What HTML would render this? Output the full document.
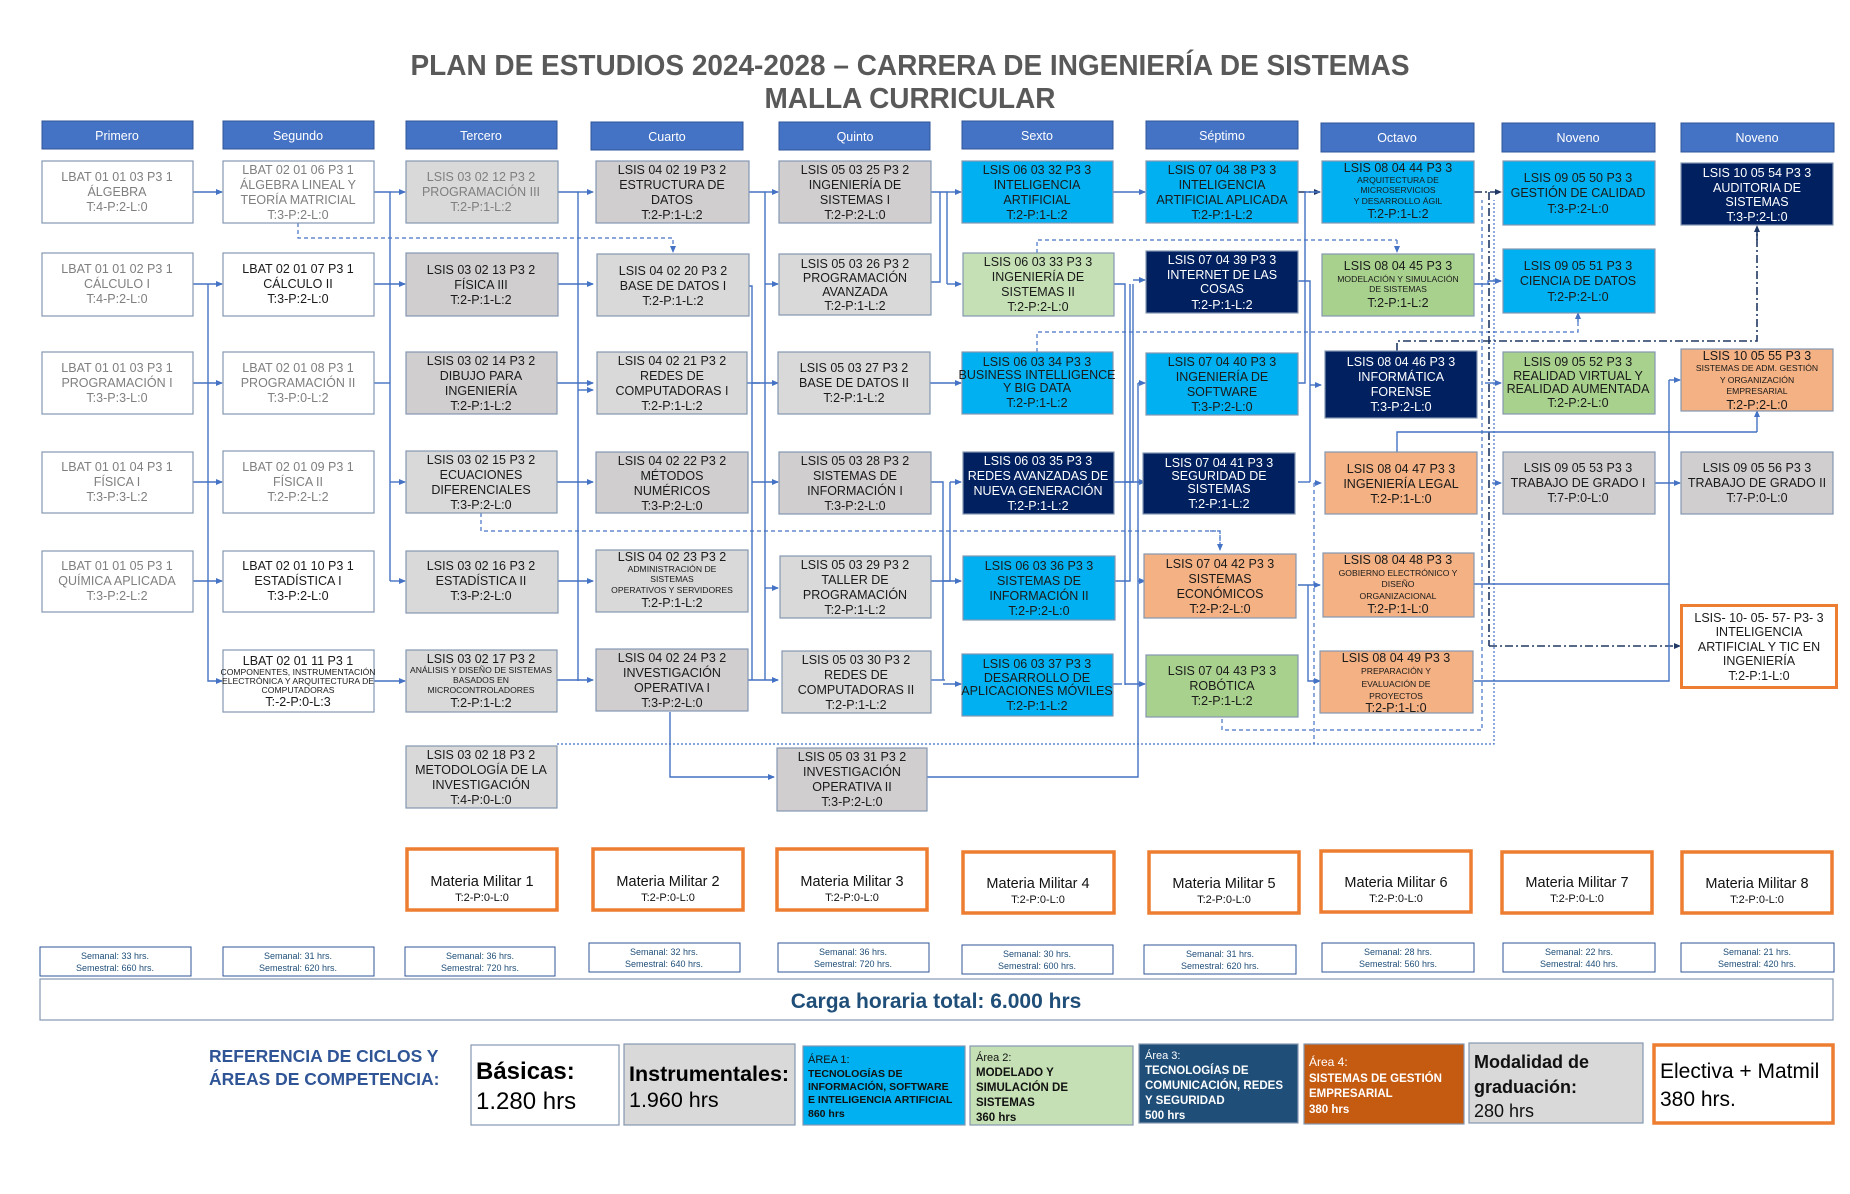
<!DOCTYPE html>
<html><head><meta charset="utf-8"><style>
html,body{margin:0;padding:0;background:#fff;}
svg{display:block;}
text{font-family:"Liberation Sans",sans-serif;}
.t{font-size:12.5px;text-anchor:middle;}
.s{font-size:8.6px;text-anchor:middle;}
.g{fill:#7f7f7f;}
.k{fill:#1a1a1a;}
.w{fill:#fff;}
.h{font-size:12.5px;fill:#fff;text-anchor:middle;}
.ln{fill:none;stroke:#4472c4;stroke-width:1.4;}
.ld{fill:none;stroke:#4472c4;stroke-width:1.2;stroke-dasharray:4 3;}
.ldd{fill:none;stroke:#203864;stroke-width:1.6;stroke-dasharray:8 3 2 3;}
.lp{fill:none;stroke:#4472c4;stroke-width:1.2;stroke-dasharray:2 2;}
.m1{font-size:14.5px;text-anchor:middle;fill:#111;}
.m2{font-size:11px;text-anchor:middle;fill:#111;}
.sm{font-size:9px;text-anchor:middle;fill:#1f4e79;}
</style></head><body>
<svg width="1850" height="1194" viewBox="0 0 1850 1194" xmlns="http://www.w3.org/2000/svg">
<defs>
<marker id="a" markerWidth="7" markerHeight="7" refX="6" refY="3.5" orient="auto" markerUnits="userSpaceOnUse"><path d="M0,0.5 L7,3.5 L0,6.5 z" fill="#4472c4"/></marker>
<marker id="an" markerWidth="7" markerHeight="7" refX="6" refY="3.5" orient="auto" markerUnits="userSpaceOnUse"><path d="M0,0.5 L7,3.5 L0,6.5 z" fill="#203864"/></marker>
</defs>

<text x="910" y="75" font-size="29" font-weight="bold" fill="#595959" text-anchor="middle" textLength="999" lengthAdjust="spacingAndGlyphs">PLAN DE ESTUDIOS 2024-2028 – CARRERA DE INGENIERÍA DE SISTEMAS</text>
<text x="910" y="108" font-size="29" font-weight="bold" fill="#595959" text-anchor="middle" textLength="291" lengthAdjust="spacingAndGlyphs">MALLA CURRICULAR</text>

<g fill="#4472c4" stroke="#2f5597" stroke-width="1">
<rect x="42" y="121" width="151" height="28"/><rect x="223" y="121" width="151" height="28"/><rect x="406" y="121" width="151" height="28"/><rect x="591" y="122" width="152" height="28"/><rect x="779" y="122" width="151" height="28"/><rect x="962" y="121" width="151" height="28"/><rect x="1146" y="121" width="152" height="28"/><rect x="1321" y="123" width="153" height="29"/><rect x="1502" y="123" width="153" height="29"/><rect x="1681" y="123" width="153" height="29"/>
</g>
<text class="h" x="117" y="140">Primero</text><text class="h" x="298" y="140">Segundo</text><text class="h" x="481" y="140">Tercero</text><text class="h" x="667" y="141">Cuarto</text><text class="h" x="855" y="141">Quinto</text><text class="h" x="1037" y="140">Sexto</text><text class="h" x="1222" y="140">Séptimo</text><text class="h" x="1397" y="142">Octavo</text><text class="h" x="1578" y="142">Noveno</text><text class="h" x="1757" y="142">Noveno</text>

<path class="ln" marker-end="url(#a)" d="M193,192 H222"/>
<path class="ln" marker-end="url(#a)" d="M193,284 H222"/>
<path class="ln" marker-end="url(#a)" d="M193,383 H222"/>
<path class="ln" marker-end="url(#a)" d="M193,482 H222"/>
<path class="ln" marker-end="url(#a)" d="M193,581 H222"/>
<path class="ln" marker-end="url(#a)" d="M208,284 V681 H222"/>
<path class="ln" d="M374,192 H390 V581"/>
<path class="ln" d="M374,383 H390"/>
<path class="ln" marker-end="url(#a)" d="M390,192 H405"/>
<path class="ln" marker-end="url(#a)" d="M374,284 H405"/>
<path class="ln" marker-end="url(#a)" d="M390,482 H405"/>
<path class="ln" marker-end="url(#a)" d="M390,581 H405"/>
<path class="ln" marker-end="url(#a)" d="M374,681 H405"/>
<path class="ld" marker-end="url(#a)" d="M298,223 V238 H673 V252"/>
<path class="ln" d="M557,192 H578 V681"/>
<path class="ln" marker-end="url(#a)" d="M578,192 H593"/>
<path class="ln" marker-end="url(#a)" d="M557,284 H593"/>
<path class="ln" marker-end="url(#a)" d="M557,383 H593"/>
<path class="ln" marker-end="url(#a)" d="M578,390 H593"/>
<path class="ln" marker-end="url(#a)" d="M557,482 H593"/>
<path class="ln" marker-end="url(#a)" d="M557,581 H578 M578,581 H593"/>
<path class="ln" marker-end="url(#a)" d="M557,680 H593"/>
<path class="ld" d="M481,513 V531 H1220 V549"/>
<path class="ld" marker-end="url(#a)" d="M1210,531 H1220 V550"/>
<path class="lp" d="M557,744 H1494 V200"/>
<path class="ln" d="M747,192 H765 V680"/>
<path class="ln" d="M747,286 H752 V680"/>
<path class="ln" d="M747,383 H760"/>
<path class="ln" marker-end="url(#a)" d="M765,192 H778"/>
<path class="ln" marker-end="url(#a)" d="M765,284 H778"/>
<path class="ln" marker-end="url(#a)" d="M752,383 H778"/>
<path class="ln" marker-end="url(#a)" d="M752,482 H778"/>
<path class="ln" marker-end="url(#a)" d="M765,588 H778"/>
<path class="ln" marker-end="url(#a)" d="M747,680 H778"/>
<path class="ln" marker-end="url(#a)" d="M670,712 V777 H774"/>
<path class="ln" d="M930,192 H947 V284"/>
<path class="ln" d="M930,282 H940 V192"/>
<path class="ln" marker-end="url(#a)" d="M947,192 H961"/>
<path class="ln" marker-end="url(#a)" d="M947,284 H961"/>
<path class="ln" marker-end="url(#a)" d="M930,383 H961"/>
<path class="ln" d="M930,482 H943 V680"/>
<path class="ln" d="M930,581 H950 V482"/>
<path class="ln" d="M930,680 H945"/>
<path class="ln" marker-end="url(#a)" d="M950,482 H961"/>
<path class="ln" marker-end="url(#a)" d="M943,581 H961"/>
<path class="ln" marker-end="url(#a)" d="M943,684 H961"/>
<path class="ln" d="M926,777 H1138 V383"/>
<path class="ln" marker-end="url(#a)" d="M1113,192 H1145"/>
<path class="ln" d="M1113,284 H1125 V685"/>
<path class="ln" d="M1113,482 H1133 V284"/>
<path class="ln" d="M1113,581 H1130 V284"/>
<path class="ln" d="M1113,684 H1122"/>
<path class="ln" marker-end="url(#a)" d="M1133,280 H1145"/>
<path class="ln" marker-end="url(#a)" d="M1138,383 H1145"/>
<path class="ln" marker-end="url(#a)" d="M1125,482 H1145"/>
<path class="ln" marker-end="url(#a)" d="M1138,581 H1145"/>
<path class="ln" marker-end="url(#a)" d="M1125,684 H1145"/>
<path class="ld" d="M1037,253 V240 H1397"/>
<path class="ld" marker-end="url(#a)" d="M1397,240 V252"/>
<path class="ld" d="M1037,352 V332 H1578 V313" stroke-dasharray="8 4"/>
<path class="ln" marker-end="url(#a)" d="M1578,322 V313"/>
<path class="ldd" marker-end="url(#an)" d="M1298,192 H1320"/>
<path class="ln" d="M1298,383 H1305 V192 H1320"/>
<path class="ln" d="M1298,281 H1310 V482"/>
<path class="ln" d="M1298,482 H1310"/>
<path class="ln" marker-end="url(#a)" d="M1310,385 H1321"/>
<path class="ln" marker-end="url(#a)" d="M1298,585 H1320"/>
<path class="ld" d="M1222,712 V730 H1482 V200" stroke-dasharray="8 4"/>
<path class="ld" marker-end="url(#a)" d="M1314,483 H1321"/>
<path class="ld" d="M1314,483 V744"/>
<path class="ln" marker-end="url(#a)" d="M1308,585 V681 H1320"/>
<path class="ldd" marker-end="url(#an)" d="M1474,192 H1501"/>
<path class="ldd" d="M1489,192 V646"/>
<path class="ldd" marker-end="url(#an)" d="M1489,646 H1680"/>
<path class="ln" marker-end="url(#a)" d="M1474,284 H1488 V281 H1501"/>
<path class="ln" marker-end="url(#a)" d="M1485,383 H1501"/>
<path class="ld" marker-end="url(#a)" d="M1492,483 H1501"/>
<path class="ldd" d="M1397,351 V341 H1757 V233"/>
<path class="ldd" marker-end="url(#an)" d="M1757,240 V226"/>
<path class="ln" d="M1397,452 V432 H1757"/>
<path class="ln" marker-end="url(#a)" d="M1757,432 V411"/>
<path class="ln" marker-end="url(#a)" d="M1655,483 H1680"/>
<path class="ln" d="M1474,584 H1669 V380"/>
<path class="ln" d="M1474,681 H1669 V584"/>
<path class="ln" marker-end="url(#a)" d="M1669,380 H1680"/>

<g stroke="#8497b0" stroke-width="1.2">
<rect x="42" y="161" width="151" height="62" fill="#fff"/>
<rect x="42" y="253" width="151" height="63" fill="#fff"/>
<rect x="42" y="352" width="151" height="62" fill="#fff"/>
<rect x="42" y="452" width="151" height="61" fill="#fff"/>
<rect x="42" y="551" width="151" height="61" fill="#fff"/>
<rect x="223" y="161" width="151" height="62" fill="#fff"/>
<rect x="223" y="253" width="151" height="63" fill="#fff"/>
<rect x="223" y="352" width="151" height="62" fill="#fff"/>
<rect x="223" y="451" width="151" height="62" fill="#fff"/>
<rect x="223" y="551" width="151" height="61" fill="#fff"/>
<rect x="223" y="650" width="151" height="62" fill="#fff"/>
<rect x="406" y="161" width="152" height="62" fill="#d9d9d9"/>
<rect x="406" y="253" width="152" height="63" fill="#d0cece"/>
<rect x="406" y="352" width="151" height="62" fill="#d0cece"/>
<rect x="406" y="451" width="151" height="62" fill="#d9d9d9"/>
<rect x="406" y="551" width="152" height="62" fill="#d9d9d9"/>
<rect x="406" y="650" width="151" height="62" fill="#d9d9d9"/>
<rect x="406" y="746" width="151" height="62" fill="#d9d9d9"/>
<rect x="596" y="161" width="153" height="62" fill="#d0cece"/>
<rect x="597" y="254" width="152" height="62" fill="#d9d9d9"/>
<rect x="597" y="352" width="150" height="62" fill="#d9d9d9"/>
<rect x="596" y="452" width="152" height="61" fill="#d0cece"/>
<rect x="596" y="550" width="152" height="62" fill="#d9d9d9"/>
<rect x="596" y="649" width="152" height="62" fill="#d0cece"/>
<rect x="779" y="161" width="152" height="62" fill="#d0cece"/>
<rect x="779" y="254" width="152" height="61" fill="#d9d9d9"/>
<rect x="778" y="352" width="152" height="62" fill="#d9d9d9"/>
<rect x="779" y="452" width="152" height="62" fill="#d0cece"/>
<rect x="780" y="556" width="151" height="62" fill="#d9d9d9"/>
<rect x="782" y="651" width="149" height="62" fill="#d9d9d9"/>
<rect x="777" y="748" width="150" height="63" fill="#d0cece"/>
<rect x="962" y="161" width="151" height="62" fill="#00b0f0"/>
<rect x="963" y="253" width="151" height="63" fill="#c5e0b4"/>
<rect x="962" y="352" width="151" height="62" fill="#00b0f0"/>
<rect x="963" y="452" width="151" height="62" fill="#002060"/>
<rect x="963" y="556" width="152" height="64" fill="#00b0f0"/>
<rect x="962" y="654" width="151" height="62" fill="#00b0f0"/>
<rect x="1146" y="161" width="152" height="62" fill="#00b0f0"/>
<rect x="1146" y="251" width="152" height="62" fill="#002060"/>
<rect x="1146" y="353" width="152" height="62" fill="#00b0f0"/>
<rect x="1143" y="453" width="152" height="61" fill="#002060"/>
<rect x="1144" y="554" width="152" height="64" fill="#f4b183"/>
<rect x="1146" y="655" width="152" height="62" fill="#a9d18e"/>
<rect x="1322" y="161" width="152" height="62" fill="#00b0f0"/>
<rect x="1322" y="254" width="152" height="62" fill="#a9d18e"/>
<rect x="1325" y="351" width="152" height="67" fill="#002060"/>
<rect x="1325" y="452" width="152" height="62" fill="#f4b183"/>
<rect x="1323" y="553" width="151" height="64" fill="#f4b183"/>
<rect x="1320" y="651" width="153" height="62" fill="#f4b183"/>
<rect x="1503" y="161" width="152" height="64" fill="#00b0f0"/>
<rect x="1503" y="249" width="152" height="64" fill="#00b0f0"/>
<rect x="1503" y="352" width="152" height="62" fill="#a9d18e"/>
<rect x="1503" y="452" width="152" height="62" fill="#d0cece"/>
<rect x="1681" y="163" width="152" height="62" fill="#002060"/>
<rect x="1681" y="349" width="152" height="62" fill="#f4b183"/>
<rect x="1681" y="452" width="152" height="62" fill="#d0cece"/>
</g>
<rect x="1681.5" y="605.5" width="155" height="82" fill="#fff" stroke="#ed7d31" stroke-width="3"/>

<text class="t g"><tspan x="117" y="181">LBAT 01 01 03 P3 1</tspan><tspan x="117" y="196">ÁLGEBRA</tspan><tspan x="117" y="211">T:4-P:2-L:0</tspan></text>
<text class="t g"><tspan x="117" y="273">LBAT  01 01 02 P3 1</tspan><tspan x="117" y="288">CÁLCULO I</tspan><tspan x="117" y="303">T:4-P:2-L:0</tspan></text>
<text class="t g"><tspan x="117" y="372">LBAT 01 01 03 P3 1</tspan><tspan x="117" y="387">PROGRAMACIÓN I</tspan><tspan x="117" y="402">T:3-P:3-L:0</tspan></text>
<text class="t g"><tspan x="117" y="471">LBAT 01 01 04 P3 1</tspan><tspan x="117" y="486">FÍSICA I</tspan><tspan x="117" y="501">T:3-P:3-L:2</tspan></text>
<text class="t g"><tspan x="117" y="570">LBAT 01 01 05 P3 1</tspan><tspan x="117" y="585">QUÍMICA APLICADA</tspan><tspan x="117" y="600">T:3-P:2-L:2</tspan></text>
<text class="t g"><tspan x="298" y="174">LBAT 02 01 06 P3 1</tspan><tspan x="298" y="189">ÁLGEBRA LINEAL Y</tspan><tspan x="298" y="204">TEORÍA MATRICIAL</tspan><tspan x="298" y="219">T:3-P:2-L:0</tspan></text>
<text class="t k"><tspan x="298" y="273">LBAT 02 01 07 P3 1</tspan><tspan x="298" y="288">CÁLCULO II</tspan><tspan x="298" y="303">T:3-P:2-L:0</tspan></text>
<text class="t g"><tspan x="298" y="372">LBAT 02 01 08 P3 1</tspan><tspan x="298" y="387">PROGRAMACIÓN II</tspan><tspan x="298" y="402">T:3-P:0-L:2</tspan></text>
<text class="t g"><tspan x="298" y="471">LBAT 02 01 09 P3 1</tspan><tspan x="298" y="486">FÍSICA II</tspan><tspan x="298" y="501">T:2-P:2-L:2</tspan></text>
<text class="t k"><tspan x="298" y="570">LBAT 02 01 10 P3 1</tspan><tspan x="298" y="585">ESTADÍSTICA I</tspan><tspan x="298" y="600">T:3-P:2-L:0</tspan></text>
<text class="t k" font-size="11.5"><tspan x="298" y="665">LBAT 02 01 11 P3 1</tspan></text>
<text class="s k" font-size="7"><tspan x="298" y="675">COMPONENTES, INSTRUMENTACIÓN</tspan><tspan x="298" y="684">ELECTRÓNICA Y ARQUITECTURA DE</tspan><tspan x="298" y="693">COMPUTADORAS</tspan></text>
<text class="t k"><tspan x="298" y="706">T:-2-P:0-L:3</tspan></text>
<text class="t g"><tspan x="481" y="181">LSIS 03 02 12 P3 2</tspan><tspan x="481" y="196">PROGRAMACIÓN III</tspan><tspan x="481" y="211">T:2-P:1-L:2</tspan></text>
<text class="t k"><tspan x="481" y="274">LSIS 03 02 13 P3 2</tspan><tspan x="481" y="289">FÍSICA III</tspan><tspan x="481" y="304">T:2-P:1-L:2</tspan></text>
<text class="t k"><tspan x="481" y="365">LSIS 03 02 14 P3 2</tspan><tspan x="481" y="380">DIBUJO PARA</tspan><tspan x="481" y="395">INGENIERÍA</tspan><tspan x="481" y="410">T:2-P:1-L:2</tspan></text>
<text class="t k"><tspan x="481" y="464">LSIS 03 02 15 P3  2</tspan><tspan x="481" y="479">ECUACIONES</tspan><tspan x="481" y="494">DIFERENCIALES</tspan><tspan x="481" y="509">T:3-P:2-L:0</tspan></text>
<text class="t k"><tspan x="481" y="570">LSIS 03 02 16 P3 2</tspan><tspan x="481" y="585">ESTADÍSTICA II</tspan><tspan x="481" y="600">T:3-P:2-L:0</tspan></text>
<text class="t k" font-size="11.5"><tspan x="481" y="663">LSIS 03 02 17 P3 2</tspan></text>
<text class="s k" font-size="7.2"><tspan x="481" y="673">ANÁLISIS Y DISEÑO DE SISTEMAS</tspan><tspan x="481" y="683">BASADOS EN</tspan><tspan x="481" y="693">MICROCONTROLADORES</tspan></text>
<text class="t k"><tspan x="481" y="707">T:2-P:1-L:2</tspan></text>
<text class="t k"><tspan x="481" y="759">LSIS 03 02 18 P3 2</tspan><tspan x="481" y="774">METODOLOGÍA DE LA</tspan><tspan x="481" y="789">INVESTIGACIÓN</tspan><tspan x="481" y="804">T:4-P:0-L:0</tspan></text>
<text class="t k"><tspan x="672" y="174">LSIS 04 02 19 P3 2</tspan><tspan x="672" y="189">ESTRUCTURA DE</tspan><tspan x="672" y="204">DATOS</tspan><tspan x="672" y="219">T:2-P:1-L:2</tspan></text>
<text class="t k"><tspan x="673" y="275">LSIS 04 02 20 P3 2</tspan><tspan x="673" y="290">BASE DE DATOS I</tspan><tspan x="673" y="305">T:2-P:1-L:2</tspan></text>
<text class="t k"><tspan x="672" y="365">LSIS 04 02 21 P3 2</tspan><tspan x="672" y="380">REDES DE</tspan><tspan x="672" y="395">COMPUTADORAS I</tspan><tspan x="672" y="410">T:2-P:1-L:2</tspan></text>
<text class="t k"><tspan x="672" y="465">LSIS 04 02 22 P3 2</tspan><tspan x="672" y="480">MÉTODOS</tspan><tspan x="672" y="495">NUMÉRICOS</tspan><tspan x="672" y="510">T:3-P:2-L:0</tspan></text>
<text class="t k" font-size="11.5"><tspan x="672" y="561">LSIS 04 02 23 P3 2</tspan></text>
<text class="s k" font-size="7.8"><tspan x="672" y="572">ADMINISTRACIÓN DE</tspan><tspan x="672" y="582">SISTEMAS</tspan><tspan x="672" y="593">OPERATIVOS Y SERVIDORES</tspan></text>
<text class="t k"><tspan x="672" y="607">T:2-P:1-L:2</tspan></text>
<text class="t k"><tspan x="672" y="662">LSIS 04 02 24 P3 2</tspan><tspan x="672" y="677">INVESTIGACIÓN</tspan><tspan x="672" y="692">OPERATIVA I</tspan><tspan x="672" y="707">T:3-P:2-L:0</tspan></text>
<text class="t k"><tspan x="855" y="174">LSIS 05 03 25 P3 2</tspan><tspan x="855" y="189">INGENIERÍA DE</tspan><tspan x="855" y="204">SISTEMAS I</tspan><tspan x="855" y="219">T:2-P:2-L:0</tspan></text>
<text class="t k"><tspan x="855" y="268">LSIS 05 03 26 P3 2</tspan><tspan x="855" y="282">PROGRAMACIÓN</tspan><tspan x="855" y="296">AVANZADA</tspan><tspan x="855" y="310">T:2-P:1-L:2</tspan></text>
<text class="t k"><tspan x="854" y="372">LSIS 05 03 27 P3 2</tspan><tspan x="854" y="387">BASE DE DATOS II</tspan><tspan x="854" y="402">T:2-P:1-L:2</tspan></text>
<text class="t k"><tspan x="855" y="465">LSIS 05 03 28 P3 2</tspan><tspan x="855" y="480">SISTEMAS DE</tspan><tspan x="855" y="495">INFORMACIÓN I</tspan><tspan x="855" y="510">T:3-P:2-L:0</tspan></text>
<text class="t k"><tspan x="855" y="569">LSIS 05 03 29 P3 2</tspan><tspan x="855" y="584">TALLER DE</tspan><tspan x="855" y="599">PROGRAMACIÓN</tspan><tspan x="855" y="614">T:2-P:1-L:2</tspan></text>
<text class="t k"><tspan x="856" y="664">LSIS 05 03 30 P3 2</tspan><tspan x="856" y="679">REDES DE</tspan><tspan x="856" y="694">COMPUTADORAS II</tspan><tspan x="856" y="709">T:2-P:1-L:2</tspan></text>
<text class="t k"><tspan x="852" y="761">LSIS 05 03 31 P3 2</tspan><tspan x="852" y="776">INVESTIGACIÓN</tspan><tspan x="852" y="791">OPERATIVA II</tspan><tspan x="852" y="806">T:3-P:2-L:0</tspan></text>
<text class="t k"><tspan x="1037" y="174">LSIS 06 03 32 P3 3</tspan><tspan x="1037" y="189">INTELIGENCIA</tspan><tspan x="1037" y="204">ARTIFICIAL</tspan><tspan x="1037" y="219">T:2-P:1-L:2</tspan></text>
<text class="t k"><tspan x="1038" y="266">LSIS 06 03 33 P3 3</tspan><tspan x="1038" y="281">INGENIERÍA DE</tspan><tspan x="1038" y="296">SISTEMAS II</tspan><tspan x="1038" y="311">T:2-P:2-L:0</tspan></text>
<text class="t k"><tspan x="1037" y="366">LSIS 06 03 34 P3 3</tspan></text>
<text class="t k" font-size="9.8"><tspan x="1037" y="379">BUSINESS INTELLIGENCE</tspan><tspan x="1037" y="392">Y BIG DATA</tspan></text>
<text class="t k"><tspan x="1037" y="407">T:2-P:1-L:2</tspan></text>
<text class="t w"><tspan x="1038" y="465">LSIS 06 03 35 P3 3</tspan></text>
<text class="t w" font-size="12"><tspan x="1038" y="480">REDES AVANZADAS DE</tspan><tspan x="1038" y="495">NUEVA GENERACIÓN</tspan></text>
<text class="t w"><tspan x="1038" y="510">T:2-P:1-L:2</tspan></text>
<text class="t k"><tspan x="1039" y="570">LSIS 06 03 36 P3 3</tspan><tspan x="1039" y="585">SISTEMAS DE</tspan><tspan x="1039" y="600">INFORMACIÓN II</tspan><tspan x="1039" y="615">T:2-P:2-L:0</tspan></text>
<text class="t k"><tspan x="1037" y="668">LSIS 06 03 37 P3 3</tspan></text>
<text class="t k" font-size="9.8"><tspan x="1037" y="682">DESARROLLO DE</tspan><tspan x="1037" y="695">APLICACIONES MÓVILES</tspan></text>
<text class="t k"><tspan x="1037" y="710">T:2-P:1-L:2</tspan></text>
<text class="t k"><tspan x="1222" y="174">LSIS 07 04 38 P3 3</tspan><tspan x="1222" y="189">INTELIGENCIA</tspan><tspan x="1222" y="204">ARTIFICIAL APLICADA</tspan><tspan x="1222" y="219">T:2-P:1-L:2</tspan></text>
<text class="t w" font-size="13.5"><tspan x="1222" y="264">LSIS 07 04 39 P3 3</tspan></text>
<text class="t w"><tspan x="1222" y="279">INTERNET DE LAS</tspan><tspan x="1222" y="293">COSAS</tspan></text>
<text class="t w" font-size="13.5"><tspan x="1222" y="309">T:2-P:1-L:2</tspan></text>
<text class="t k"><tspan x="1222" y="366">LSIS 07 04 40 P3 3</tspan><tspan x="1222" y="381">INGENIERÍA DE</tspan><tspan x="1222" y="396">SOFTWARE</tspan><tspan x="1222" y="411">T:3-P:2-L:0</tspan></text>
<text class="t w"><tspan x="1219" y="467">LSIS 07 04 41 P3 3</tspan></text>
<text class="t w" font-size="11"><tspan x="1219" y="480">SEGURIDAD DE</tspan><tspan x="1219" y="493">SISTEMAS</tspan></text>
<text class="t w"><tspan x="1219" y="508">T:2-P:1-L:2</tspan></text>
<text class="t k"><tspan x="1220" y="568">LSIS 07 04 42 P3 3</tspan><tspan x="1220" y="583">SISTEMAS</tspan><tspan x="1220" y="598">ECONÓMICOS</tspan><tspan x="1220" y="613">T:2-P:2-L:0</tspan></text>
<text class="t k"><tspan x="1222" y="675">LSIS 07 04 43 P3 3</tspan><tspan x="1222" y="690">ROBÓTICA</tspan><tspan x="1222" y="705">T:2-P:1-L:2</tspan></text>
<text class="t k" font-size="11.5"><tspan x="1398" y="172">LSIS 08 04 44 P3 3</tspan></text>
<text class="s k" font-size="8.3"><tspan x="1398" y="183">ARQUITECTURA DE</tspan><tspan x="1398" y="193">MICROSERVICIOS</tspan><tspan x="1398" y="204">Y DESARROLLO ÁGIL</tspan></text>
<text class="t k"><tspan x="1398" y="218">T:2-P:1-L:2</tspan></text>
<text class="t k" font-size="11.5"><tspan x="1398" y="270">LSIS 08 04 45 P3 3</tspan></text>
<text class="s k" font-size="8.3"><tspan x="1398" y="282">MODELACIÓN Y SIMULACIÓN</tspan><tspan x="1398" y="292">DE SISTEMAS</tspan></text>
<text class="t k"><tspan x="1398" y="307">T:2-P:1-L:2</tspan></text>
<text class="t w"><tspan x="1401" y="366">LSIS 08 04 46 P3 3</tspan><tspan x="1401" y="381">INFORMÁTICA</tspan><tspan x="1401" y="396">FORENSE</tspan><tspan x="1401" y="411">T:3-P:2-L:0</tspan></text>
<text class="t k"><tspan x="1401" y="473">LSIS 08 04 47 P3 3</tspan><tspan x="1401" y="488">INGENIERÍA LEGAL</tspan><tspan x="1401" y="503">T:2-P:1-L:0</tspan></text>
<text class="t k" font-size="11.5"><tspan x="1398" y="564">LSIS 08 04 48 P3 3</tspan></text>
<text class="s k" font-size="8.3"><tspan x="1398" y="576">GOBIERNO ELECTRÓNICO Y</tspan><tspan x="1398" y="587">DISEÑO</tspan><tspan x="1398" y="599">ORGANIZACIONAL</tspan></text>
<text class="t k"><tspan x="1398" y="613">T:2-P:1-L:0</tspan></text>
<text class="t k" font-size="11.5"><tspan x="1396" y="662">LSIS 08 04 49 P3 3</tspan></text>
<text class="s k" font-size="9"><tspan x="1396" y="674">PREPARACIÓN Y</tspan><tspan x="1396" y="687">EVALUACIÓN DE</tspan><tspan x="1396" y="699">PROYECTOS</tspan></text>
<text class="t k"><tspan x="1396" y="712">T:2-P:1-L:0</tspan></text>
<text class="t k" font-size="13.5"><tspan x="1578" y="182">LSIS 09 05 50 P3 3</tspan><tspan x="1578" y="197">GESTIÓN DE CALIDAD</tspan><tspan x="1578" y="213">T:3-P:2-L:0</tspan></text>
<text class="t k" font-size="13.5"><tspan x="1578" y="270">LSIS 09 05 51 P3 3</tspan><tspan x="1578" y="285">CIENCIA DE DATOS</tspan><tspan x="1578" y="301">T:2-P:2-L:0</tspan></text>
<text class="t k"><tspan x="1578" y="366">LSIS 09 05 52 P3 3</tspan></text>
<text class="t k" font-size="11"><tspan x="1578" y="380">REALIDAD VIRTUAL Y</tspan><tspan x="1578" y="393">REALIDAD AUMENTADA</tspan></text>
<text class="t k"><tspan x="1578" y="407">T:2-P:2-L:0</tspan></text>
<text class="t k"><tspan x="1578" y="472">LSIS 09 05 53 P3 3</tspan><tspan x="1578" y="487">TRABAJO DE GRADO I</tspan><tspan x="1578" y="502">T:7-P:0-L:0</tspan></text>
<text class="t w"><tspan x="1757" y="177">LSIS 10 05 54 P3 3</tspan><tspan x="1757" y="192">AUDITORIA DE</tspan><tspan x="1757" y="206">SISTEMAS</tspan><tspan x="1757" y="221">T:3-P:2-L:0</tspan></text>
<text class="t k" font-size="11.5"><tspan x="1757" y="360">LSIS 10 05 55 P3 3</tspan></text>
<text class="s k" font-size="8.3"><tspan x="1757" y="371">SISTEMAS DE ADM. GESTIÓN</tspan><tspan x="1757" y="383">Y ORGANIZACIÓN</tspan><tspan x="1757" y="394">EMPRESARIAL</tspan></text>
<text class="t k"><tspan x="1757" y="409">T:2-P:2-L:0</tspan></text>
<text class="t k"><tspan x="1757" y="472">LSIS 09 05 56 P3 3</tspan><tspan x="1757" y="487">TRABAJO DE GRADO II</tspan><tspan x="1757" y="502">T:7-P:0-L:0</tspan></text>
<text class="t k" font-size="11"><tspan x="1759" y="622">LSIS- 10- 05- 57- P3- 3</tspan></text>
<text class="t k"><tspan x="1759" y="636">INTELIGENCIA</tspan><tspan x="1759" y="651">ARTIFICIAL Y TIC EN</tspan><tspan x="1759" y="665">INGENIERÍA</tspan><tspan x="1759" y="680">T:2-P:1-L:0</tspan></text>

<g fill="#fff" stroke="#ed7d31" stroke-width="3.5">
<rect x="407" y="849" width="150" height="61"/>
<rect x="593" y="849" width="150" height="61"/>
<rect x="777" y="849" width="150" height="61"/>
<rect x="963" y="852" width="151" height="61"/>
<rect x="1149" y="852" width="150" height="61"/>
<rect x="1321" y="851" width="150" height="61"/>
<rect x="1502" y="852" width="150" height="61"/>
<rect x="1682" y="852" width="150" height="61"/>
</g>
<text class="m1"><tspan x="482" y="886">Materia Militar 1</tspan></text><text class="m2"><tspan x="482" y="901">T:2-P:0-L:0</tspan></text>
<text class="m1"><tspan x="668" y="886">Materia Militar 2</tspan></text><text class="m2"><tspan x="668" y="901">T:2-P:0-L:0</tspan></text>
<text class="m1"><tspan x="852" y="886">Materia Militar 3</tspan></text><text class="m2"><tspan x="852" y="901">T:2-P:0-L:0</tspan></text>
<text class="m1"><tspan x="1038" y="888">Materia Militar 4</tspan></text><text class="m2"><tspan x="1038" y="903">T:2-P:0-L:0</tspan></text>
<text class="m1"><tspan x="1224" y="888">Materia Militar 5</tspan></text><text class="m2"><tspan x="1224" y="903">T:2-P:0-L:0</tspan></text>
<text class="m1"><tspan x="1396" y="887">Materia Militar 6</tspan></text><text class="m2"><tspan x="1396" y="902">T:2-P:0-L:0</tspan></text>
<text class="m1"><tspan x="1577" y="887">Materia Militar 7</tspan></text><text class="m2"><tspan x="1577" y="902">T:2-P:0-L:0</tspan></text>
<text class="m1"><tspan x="1757" y="888">Materia Militar 8</tspan></text><text class="m2"><tspan x="1757" y="903">T:2-P:0-L:0</tspan></text>

<g fill="#fff" stroke="#2f5597" stroke-width="1">
<rect x="40" y="947" width="151" height="29"/><rect x="223" y="947" width="151" height="29"/><rect x="405" y="947" width="150" height="29"/><rect x="589" y="943" width="151" height="29"/><rect x="778" y="943" width="151" height="29"/><rect x="962" y="945" width="151" height="29"/><rect x="1144" y="945" width="152" height="29"/><rect x="1322" y="943" width="152" height="29"/><rect x="1503" y="943" width="152" height="29"/><rect x="1681" y="943" width="153" height="29"/>
</g>
<text class="sm"><tspan x="115" y="959">Semanal: 33 hrs.</tspan><tspan x="115" y="971">Semestral: 660 hrs.</tspan></text>
<text class="sm"><tspan x="298" y="959">Semanal: 31 hrs.</tspan><tspan x="298" y="971">Semestral: 620 hrs.</tspan></text>
<text class="sm"><tspan x="480" y="959">Semanal: 36 hrs.</tspan><tspan x="480" y="971">Semestral: 720 hrs.</tspan></text>
<text class="sm"><tspan x="664" y="955">Semanal: 32 hrs.</tspan><tspan x="664" y="967">Semestral: 640 hrs.</tspan></text>
<text class="sm"><tspan x="853" y="955">Semanal: 36 hrs.</tspan><tspan x="853" y="967">Semestral: 720 hrs.</tspan></text>
<text class="sm"><tspan x="1037" y="957">Semanal: 30 hrs.</tspan><tspan x="1037" y="969">Semestral: 600 hrs.</tspan></text>
<text class="sm"><tspan x="1220" y="957">Semanal: 31 hrs.</tspan><tspan x="1220" y="969">Semestral: 620 hrs.</tspan></text>
<text class="sm"><tspan x="1398" y="955">Semanal: 28 hrs.</tspan><tspan x="1398" y="967">Semestral: 560 hrs.</tspan></text>
<text class="sm"><tspan x="1579" y="955">Semanal: 22 hrs.</tspan><tspan x="1579" y="967">Semestral: 440 hrs.</tspan></text>
<text class="sm"><tspan x="1757" y="955">Semanal: 21 hrs.</tspan><tspan x="1757" y="967">Semestral: 420 hrs.</tspan></text>

<rect x="40" y="979" width="1793" height="41" fill="#fff" stroke="#8497b0" stroke-width="1.2"/>
<text x="936" y="1008" font-size="21" font-weight="bold" fill="#1f4e79" text-anchor="middle">Carga horaria total: 6.000 hrs</text>

<text font-size="17.5" font-weight="bold" fill="#2f5597"><tspan x="209" y="1062">REFERENCIA DE CICLOS Y</tspan><tspan x="209" y="1085">ÁREAS DE COMPETENCIA:</tspan></text>
<rect x="471" y="1045" width="148" height="80" fill="#fff" stroke="#8497b0" stroke-width="1.2"/>
<text font-size="24" fill="#000"><tspan x="476" y="1079" font-weight="bold">Básicas:</tspan><tspan x="476" y="1109">1.280 hrs</tspan></text>
<rect x="624" y="1044" width="171" height="81" fill="#d9d9d9" stroke="#8497b0" stroke-width="1.2"/>
<text font-size="21.5" fill="#000"><tspan x="629" y="1081" font-weight="bold">Instrumentales:</tspan><tspan x="629" y="1107">1.960 hrs</tspan></text>
<rect x="803" y="1046" width="162" height="79" fill="#00b0f0" stroke="#8497b0" stroke-width="1.2"/>
<text font-size="11" fill="#111"><tspan x="808" y="1063">ÁREA 1:</tspan></text>
<text font-size="10.5" font-weight="bold" fill="#111"><tspan x="808" y="1077">TECNOLOGÍAS DE</tspan><tspan x="808" y="1090">INFORMACIÓN, SOFTWARE</tspan><tspan x="808" y="1103">E INTELIGENCIA ARTIFICIAL</tspan><tspan x="808" y="1117">860 hrs</tspan></text>
<rect x="970" y="1046" width="163" height="79" fill="#c5e0b4" stroke="#8497b0" stroke-width="1.2"/>
<text font-size="11" fill="#111"><tspan x="976" y="1061">Área 2:</tspan></text>
<text font-size="11.5" font-weight="bold" fill="#111"><tspan x="976" y="1076">MODELADO Y</tspan><tspan x="976" y="1091">SIMULACIÓN DE</tspan><tspan x="976" y="1106">SISTEMAS</tspan><tspan x="976" y="1121">360 hrs</tspan></text>
<rect x="1139" y="1044" width="159" height="79" fill="#1f4e79" stroke="#8497b0" stroke-width="1.2"/>
<text font-size="11" fill="#fff"><tspan x="1145" y="1059">Área 3:</tspan></text>
<text font-size="11.5" font-weight="bold" fill="#fff"><tspan x="1145" y="1074">TECNOLOGÍAS DE</tspan><tspan x="1145" y="1089">COMUNICACIÓN, REDES</tspan><tspan x="1145" y="1104">Y SEGURIDAD</tspan><tspan x="1145" y="1119">500 hrs</tspan></text>
<rect x="1304" y="1044" width="160" height="80" fill="#c55a11" stroke="#8497b0" stroke-width="1.2"/>
<text font-size="12" fill="#fff"><tspan x="1309" y="1066">Área 4:</tspan></text>
<text font-size="11.5" font-weight="bold" fill="#fff"><tspan x="1309" y="1082">SISTEMAS DE GESTIÓN</tspan><tspan x="1309" y="1097">EMPRESARIAL</tspan><tspan x="1309" y="1113">380 hrs</tspan></text>
<rect x="1469" y="1043" width="174" height="80" fill="#d9d9d9" stroke="#8497b0" stroke-width="1.2"/>
<text font-size="18" fill="#111"><tspan x="1474" y="1068" font-weight="bold">Modalidad de</tspan><tspan x="1474" y="1093" font-weight="bold">graduación:</tspan><tspan x="1474" y="1117">280 hrs</tspan></text>
<rect x="1654" y="1045" width="179" height="78" fill="#fff" stroke="#ed7d31" stroke-width="3.5"/>
<text font-size="21" fill="#000"><tspan x="1660" y="1078">Electiva + Matmil</tspan><tspan x="1660" y="1106">380 hrs.</tspan></text>
</svg>
</body></html>
